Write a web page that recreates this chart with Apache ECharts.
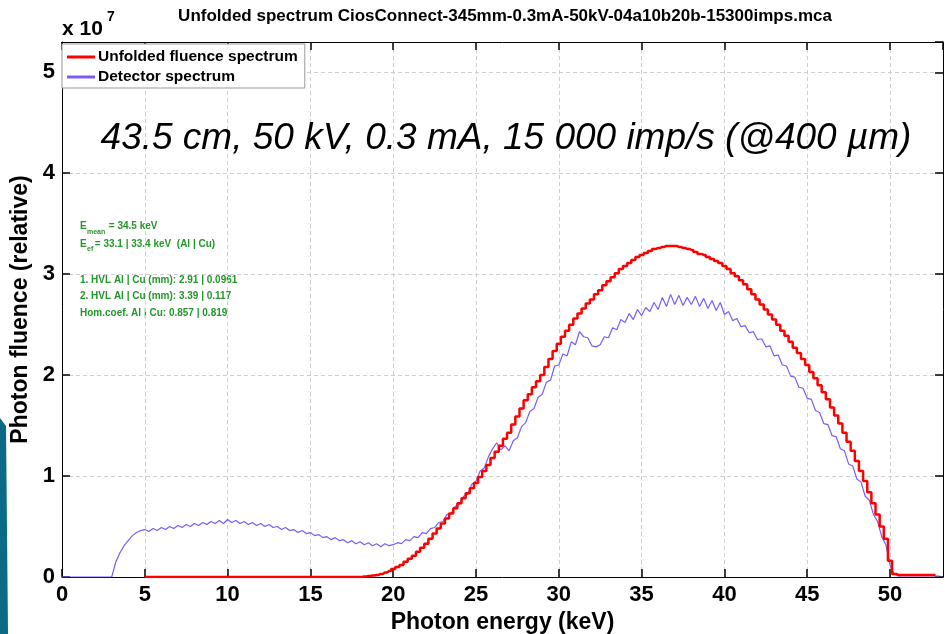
<!DOCTYPE html>
<html>
<head>
<meta charset="utf-8">
<title>Unfolded spectrum</title>
<script src="https://cdn.jsdelivr.net/npm/echarts@6/dist/echarts.min.js"></script>
<style>
  html, body { margin: 0; padding: 0; background: #fff; }
  #chart { width: 945px; height: 634px; }
</style>
</head>
<body>
<div id="chart"></div>
<script>
// energy grid: both spectra are sampled in 0.25 keV bins
const binStep = 0.25

// detector spectrum, bins from 0 keV (x 10^7)
const detectorStart = 0
const detectorValues = [
  0, 0, 0, 0,
  0, 0, 0, 0,
  0, 0, 0, 0,
  0, 0.15, 0.24, 0.31,
  0.36, 0.41, 0.44, 0.46,
  0.47, 0.45, 0.48, 0.46,
  0.49, 0.47, 0.50, 0.48,
  0.51, 0.49, 0.52, 0.50,
  0.53, 0.51, 0.54, 0.52,
  0.55, 0.53, 0.56, 0.53,
  0.57, 0.54, 0.56, 0.53,
  0.55, 0.52, 0.54, 0.51,
  0.53, 0.50, 0.52, 0.49,
  0.50, 0.47, 0.49, 0.46,
  0.47, 0.44, 0.46, 0.43,
  0.44, 0.41, 0.42, 0.39,
  0.40, 0.37, 0.39, 0.36,
  0.37, 0.34, 0.36, 0.33,
  0.35, 0.32, 0.34, 0.31,
  0.33, 0.30, 0.33, 0.31,
  0.32, 0.34, 0.33, 0.37,
  0.36, 0.40, 0.39, 0.44,
  0.43, 0.48, 0.49, 0.54,
  0.55, 0.62, 0.63, 0.70,
  0.72, 0.80, 0.82, 0.92,
  0.95, 1.05, 1.08, 1.19,
  1.27, 1.33, 1.26, 1.30,
  1.25, 1.35, 1.38, 1.49,
  1.53, 1.64, 1.67, 1.78,
  1.81, 1.93, 1.95, 2.09,
  2.10, 2.21, 2.19, 2.33,
  2.30, 2.43, 2.38, 2.37,
  2.29, 2.28, 2.30, 2.38,
  2.37, 2.47, 2.45, 2.55,
  2.52, 2.61, 2.55, 2.65,
  2.59, 2.67, 2.63, 2.72,
  2.65, 2.77, 2.68, 2.80,
  2.70, 2.79, 2.69, 2.77,
  2.70, 2.78, 2.68, 2.76,
  2.66, 2.74, 2.64, 2.72,
  2.60, 2.63, 2.54, 2.56,
  2.48, 2.49, 2.42, 2.43,
  2.35, 2.36, 2.28, 2.29,
  2.19, 2.20, 2.10, 2.09,
  1.99, 1.98, 1.88, 1.87,
  1.77, 1.76, 1.65, 1.63,
  1.52, 1.51, 1.40, 1.39,
  1.27, 1.25, 1.12, 1.10,
  0.97, 0.94, 0.80, 0.76,
  0.62, 0.55, 0.40, 0.32,
  0.12, 0.03, 0.01, 0.01,
  0.01, 0.01, 0.01, 0.01,
  0.01, 0.01, 0.01, 0.01,
  0.01
]

// unfolded fluence spectrum, bins from 5 keV (x 10^7)
const unfoldedStart = 5
const unfoldedValues = [
  0, 0, 0, 0,   0, 0, 0, 0,   0, 0, 0, 0,   0, 0, 0, 0,
  0, 0, 0, 0,   0, 0, 0, 0,   0, 0, 0, 0,   0, 0, 0, 0,
  0, 0, 0, 0,   0, 0, 0, 0,   0, 0, 0, 0,   0, 0, 0, 0,
  0, 0, 0, 0,
  0.00, 0.005, 0.01, 0.015,
  0.02, 0.03, 0.045, 0.06,
  0.08, 0.10, 0.12, 0.15,
  0.18, 0.21, 0.25, 0.29,
  0.33, 0.38, 0.43, 0.48,
  0.53, 0.58, 0.63, 0.68,
  0.73, 0.78, 0.83, 0.88,
  0.93, 0.99, 1.05, 1.11,
  1.18, 1.24, 1.30, 1.37,
  1.43, 1.51, 1.59, 1.67,
  1.75, 1.81, 1.88, 1.94,
  2.00, 2.08, 2.16, 2.24,
  2.31, 2.38, 2.44, 2.50,
  2.56, 2.61, 2.66, 2.71,
  2.75, 2.80, 2.84, 2.89,
  2.93, 2.97, 3.01, 3.05,
  3.08, 3.11, 3.14, 3.17,
  3.19, 3.21, 3.23, 3.25,
  3.26, 3.27, 3.28, 3.28,
  3.28, 3.27, 3.26, 3.25,
  3.24, 3.22, 3.20, 3.19,
  3.17, 3.15, 3.13, 3.11,
  3.08, 3.05, 3.01, 2.98,
  2.94, 2.90, 2.85, 2.80,
  2.75, 2.70, 2.65, 2.60,
  2.55, 2.50, 2.44, 2.39,
  2.33, 2.27, 2.22, 2.16,
  2.10, 2.03, 1.97, 1.90,
  1.83, 1.76, 1.68, 1.60,
  1.52, 1.43, 1.34, 1.25,
  1.15, 1.05, 0.95, 0.84,
  0.73, 0.62, 0.50, 0.38,
  0.16, 0.03, 0.02, 0.02,
  0.02, 0.02, 0.02, 0.02,
  0.02, 0.02, 0.02, 0.02
]

const seriesNames = ['Unfolded fluence spectrum', 'Detector spectrum']
const titleText = 'Unfolded spectrum CiosConnect-345mm-0.3mA-50kV-04a10b20b-15300imps.mca'
const noteText = '43.5 cm, 50 kV, 0.3 mA, 15 000 imp/s (@400 µm)'
const statLines = [
  '1. HVL Al | Cu (mm): 2.91 | 0.0961',
  '2. HVL Al | Cu (mm): 3.39 | 0.117',
  'Hom.coef. Al | Cu: 0.857 | 0.819'
]
const xMax = 53.2
const yMax = 5.3

const FONT = '"Liberation Sans", Arial, Helvetica, sans-serif'
const GREEN = '#23962a'

const toPairs = (start, values) => values.map((v, i) => [start + i * binStep, v])

const tickLabel = v => (Math.abs(v - Math.round(v)) < 1e-6 ? String(Math.round(v)) : '')

const chart = echarts.init(document.getElementById('chart'))

const baseAxis = {
  type: 'value',
  min: 0,
  axisLine: { show: true, onZero: false, lineStyle: { color: '#000', width: 1 } },
  axisTick: { show: true, inside: true, length: 8, lineStyle: { color: '#000', width: 1.5 } }
}

const option = {
  animation: false,
  backgroundColor: '#fff',
  textStyle: { fontFamily: FONT },
  title: [
    {
      text: titleText,
      left: 505,
      textAlign: 'center',
      top: 8,
      padding: 0,
      textStyle: { fontSize: 17, fontWeight: 'bold', color: '#000', fontFamily: FONT }
    },
    {
      text: 'x 10',
      left: 62,
      top: 19,
      padding: 0,
      textStyle: { fontSize: 21, fontWeight: 'bold', color: '#000', fontFamily: FONT }
    },
    {
      text: '7',
      left: 107,
      top: 10,
      padding: 0,
      textStyle: { fontSize: 14, fontWeight: 'bold', color: '#000', fontFamily: FONT }
    },
    {
      text: noteText,
      left: 506,
      textAlign: 'center',
      top: 120,
      padding: 0,
      textStyle: { fontSize: 37, fontStyle: 'italic', fontWeight: 'normal', color: '#000', fontFamily: FONT }
    }
  ],
  legend: {
    orient: 'vertical',
    left: 62,
    top: 44,
    padding: [5, 7, 3, 5],
    itemGap: 4,
    itemWidth: 28,
    itemHeight: 3,
    icon: 'rect',
    backgroundColor: '#fff',
    borderColor: '#999',
    borderWidth: 1,
    data: seriesNames,
    textStyle: { fontSize: 15.5, fontWeight: 'bold', color: '#000', fontFamily: FONT, padding: [0, 0, 0, -2] }
  },
  grid: { left: 62, right: 2, top: 42, bottom: 57, containLabel: false, outerBoundsMode: 'none' },
  xAxis: [
    {
      ...baseAxis,
      position: 'bottom',
      max: xMax,
      interval: 5,
      name: 'Photon energy (keV)',
      nameLocation: 'middle',
      nameGap: 33,
      nameTextStyle: { fontSize: 23, fontWeight: 'bold', color: '#000', fontFamily: FONT },
      axisLabel: {
        formatter: tickLabel,
        margin: 7,
        fontSize: 22,
        fontWeight: 'bold',
        color: '#000',
        fontFamily: FONT,
        showMaxLabel: false
      },
      splitLine: { show: true, lineStyle: { color: '#cfcfcf', type: [4, 3], width: 1 } }
    },
    {
      ...baseAxis,
      position: 'top',
      max: xMax,
      interval: 5,
      axisLabel: { show: false },
      splitLine: { show: false }
    }
  ],
  yAxis: [
    {
      ...baseAxis,
      position: 'left',
      max: yMax,
      interval: 1,
      name: 'Photon fluence (relative)',
      nameLocation: 'middle',
      nameGap: 23,
      nameTextStyle: { fontSize: 23, fontWeight: 'bold', color: '#000', fontFamily: FONT },
      axisLabel: {
        formatter: tickLabel,
        margin: 7,
        fontSize: 22,
        fontWeight: 'bold',
        color: '#000',
        fontFamily: FONT,
        showMaxLabel: false
      },
      splitLine: { show: true, lineStyle: { color: '#cfcfcf', type: [4, 3], width: 1 } }
    },
    {
      ...baseAxis,
      position: 'right',
      max: yMax,
      interval: 1,
      axisLabel: { show: false },
      splitLine: { show: false }
    }
  ],
  series: [
    {
      name: seriesNames[1],
      type: 'line',
      showSymbol: false,
      z: 3,
      color: '#7b5cf6',
      lineStyle: { color: '#7b5cf6', width: 1.2 },
      data: toPairs(detectorStart, detectorValues)
    },
    {
      name: seriesNames[0],
      type: 'line',
      step: 'middle',
      showSymbol: false,
      z: 4,
      color: '#ff0000',
      lineStyle: { color: '#ff0000', width: 2.5 },
      data: toPairs(unfoldedStart, unfoldedValues)
    }
  ],
  graphic: [
    // slide background strip on the left edge
    {
      type: 'polygon',
      z: 0,
      shape: { points: [[0, 418], [6, 426], [8, 634], [0, 634]] },
      style: { fill: '#0b6a86' }
    },
    { type: 'text', left: 80, top: 221, style: { text: 'E', font: 'bold 10px ' + FONT, fill: GREEN } },
    { type: 'text', left: 87, top: 229, style: { text: 'mean', font: 'bold 7px ' + FONT, fill: GREEN } },
    { type: 'text', left: 106, top: 221, style: { text: ' = 34.5 keV', font: 'bold 10px ' + FONT, fill: GREEN } },
    { type: 'text', left: 80, top: 239, style: { text: 'E', font: 'bold 10px ' + FONT, fill: GREEN } },
    { type: 'text', left: 87, top: 246, style: { text: 'ef', font: 'bold 7px ' + FONT, fill: GREEN } },
    { type: 'text', left: 92, top: 239, style: { text: ' = 33.1 | 33.4 keV  (Al | Cu)', font: 'bold 10px ' + FONT, fill: GREEN } },
    ...statLines.map((t, i) => ({
      type: 'text',
      left: 80,
      top: 275 + i * 16.5,
      style: { text: t, font: 'bold 10px ' + FONT, fill: GREEN }
    }))
  ]
}

chart.setOption(option)
</script>
</body>
</html>
